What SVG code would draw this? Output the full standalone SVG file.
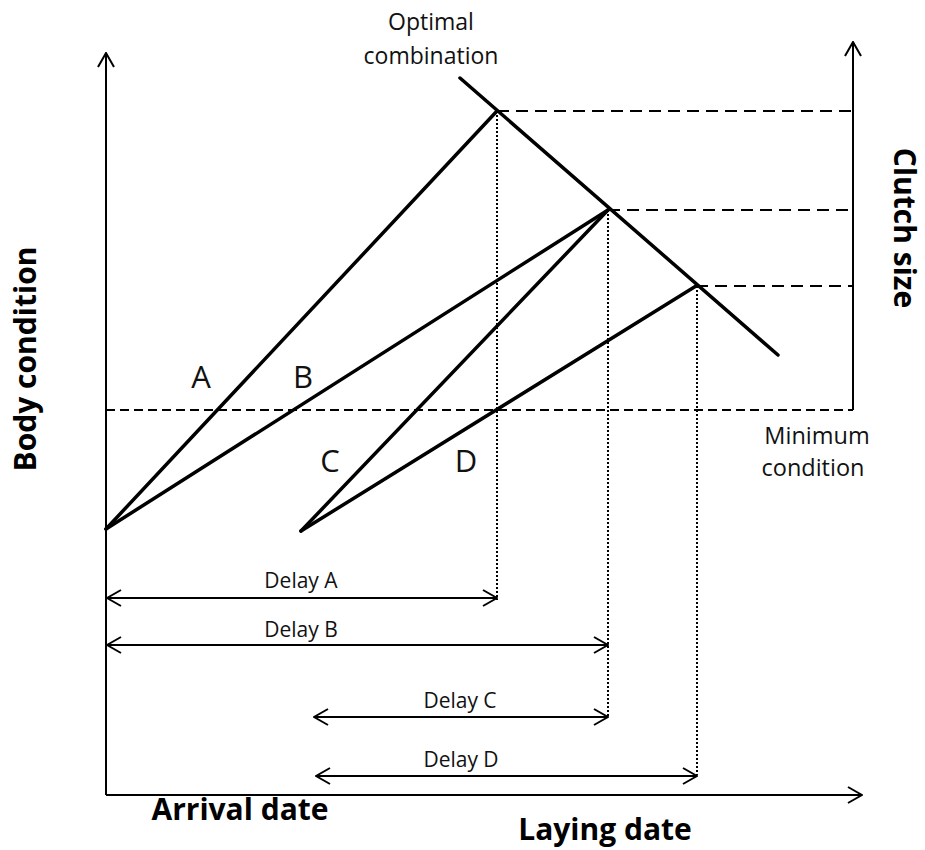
<svg xmlns="http://www.w3.org/2000/svg" width="925" height="850" viewBox="0 0 925 850">
<style>
.axis{stroke:#000;stroke-width:2;fill:none}
.main{stroke:#000;stroke-width:3.5;fill:none;stroke-linecap:round}
.dash{stroke:#000;stroke-width:2;fill:none;stroke-dasharray:12 7}
.dash2{stroke:#000;stroke-width:2;fill:none;stroke-dasharray:9 5}
.dot{stroke:#000;stroke-width:2;fill:none;stroke-dasharray:2 2}
.arr{stroke:#000;stroke-width:2;fill:none}
.lbl{font-family:"Open Sans","Noto Sans",sans-serif;fill:#111}
.big{font-family:"Open Sans","Noto Sans",sans-serif;font-weight:bold;font-size:30px;fill:#000}
</style>
<defs>
<marker id="open" viewBox="0 0 16 18" refX="15" refY="9" markerWidth="16" markerHeight="18" markerUnits="userSpaceOnUse" orient="auto-start-reverse">
<path d="M1,1 L15,9 L1,17" fill="none" stroke="#000" stroke-width="2"/>
</marker>
</defs>
<rect width="925" height="850" fill="#fff"/>
<g id="axes">
<line class="axis" x1="106" y1="795" x2="106" y2="53" marker-end="url(#open)"/>
<line class="axis" x1="106" y1="795" x2="862" y2="795" marker-end="url(#open)"/>
<line class="axis" x1="853" y1="410" x2="853" y2="42" marker-end="url(#open)"/>
</g>
<g id="connectors">
<line class="dash" x1="497" y1="111" x2="853" y2="111"/>
<line class="dash" x1="608" y1="210" x2="853" y2="210"/>
<line class="dash" x1="696" y1="286" x2="853" y2="286"/>
<line class="dash2" x1="106" y1="410" x2="853" y2="410"/>
<line class="dot" x1="497" y1="111" x2="497" y2="600"/>
<line class="dot" x1="608" y1="210" x2="608" y2="716"/>
<line class="dot" x1="697" y1="286" x2="697" y2="775"/>
<line class="main" x1="460" y1="78" x2="778" y2="355"/>
<line class="main" x1="106" y1="529" x2="497" y2="111"/>
<line class="main" x1="106" y1="529" x2="608" y2="210"/>
<line class="main" x1="301" y1="531" x2="608" y2="210"/>
<line class="main" x1="301" y1="531" x2="696" y2="286"/>
<line class="arr" x1="107" y1="598" x2="497" y2="598" marker-start="url(#open)" marker-end="url(#open)"/>
<line class="arr" x1="107" y1="645" x2="608" y2="645" marker-start="url(#open)" marker-end="url(#open)"/>
<line class="arr" x1="314" y1="717" x2="608" y2="717" marker-start="url(#open)" marker-end="url(#open)"/>
<line class="arr" x1="316" y1="776" x2="697" y2="776" marker-start="url(#open)" marker-end="url(#open)"/>
</g>
<g id="labels-lines">
<text class="lbl" x="201" y="388" font-size="31" text-anchor="middle">A</text>
<text class="lbl" x="303" y="388" font-size="31" text-anchor="middle">B</text>
<text class="lbl" x="330" y="472" font-size="31" text-anchor="middle">C</text>
<text class="lbl" x="466" y="472" font-size="31" text-anchor="middle">D</text>
</g>
<g id="optimal">
<text class="lbl" x="431" y="30" font-size="23" text-anchor="middle">Optimal</text>
<text class="lbl" x="431" y="64" font-size="23" text-anchor="middle">combination</text>
</g>
<g id="minimum">
<text class="lbl" x="817" y="444" font-size="23.5" text-anchor="middle">Minimum</text>
<text class="lbl" x="813" y="476" font-size="23.5" text-anchor="middle">condition</text>
</g>
<g id="delays">
<text class="lbl" x="301" y="588" font-size="21" text-anchor="middle">Delay A</text>
<text class="lbl" x="301" y="637" font-size="21" text-anchor="middle">Delay B</text>
<text class="lbl" x="460" y="708" font-size="21" text-anchor="middle">Delay C</text>
<text class="lbl" x="461" y="767" font-size="21" text-anchor="middle">Delay D</text>
</g>
<g id="axis-labels">
<text class="big" x="240" y="820" text-anchor="middle">Arrival date</text>
<text class="big" x="605" y="840" text-anchor="middle">Laying date</text>
<text class="big" transform="translate(36,359) rotate(-90)" text-anchor="middle">Body condition</text>
<text class="big" transform="translate(894,228) rotate(90)" text-anchor="middle" font-size="29">Clutch size</text>
</g>
</svg>
